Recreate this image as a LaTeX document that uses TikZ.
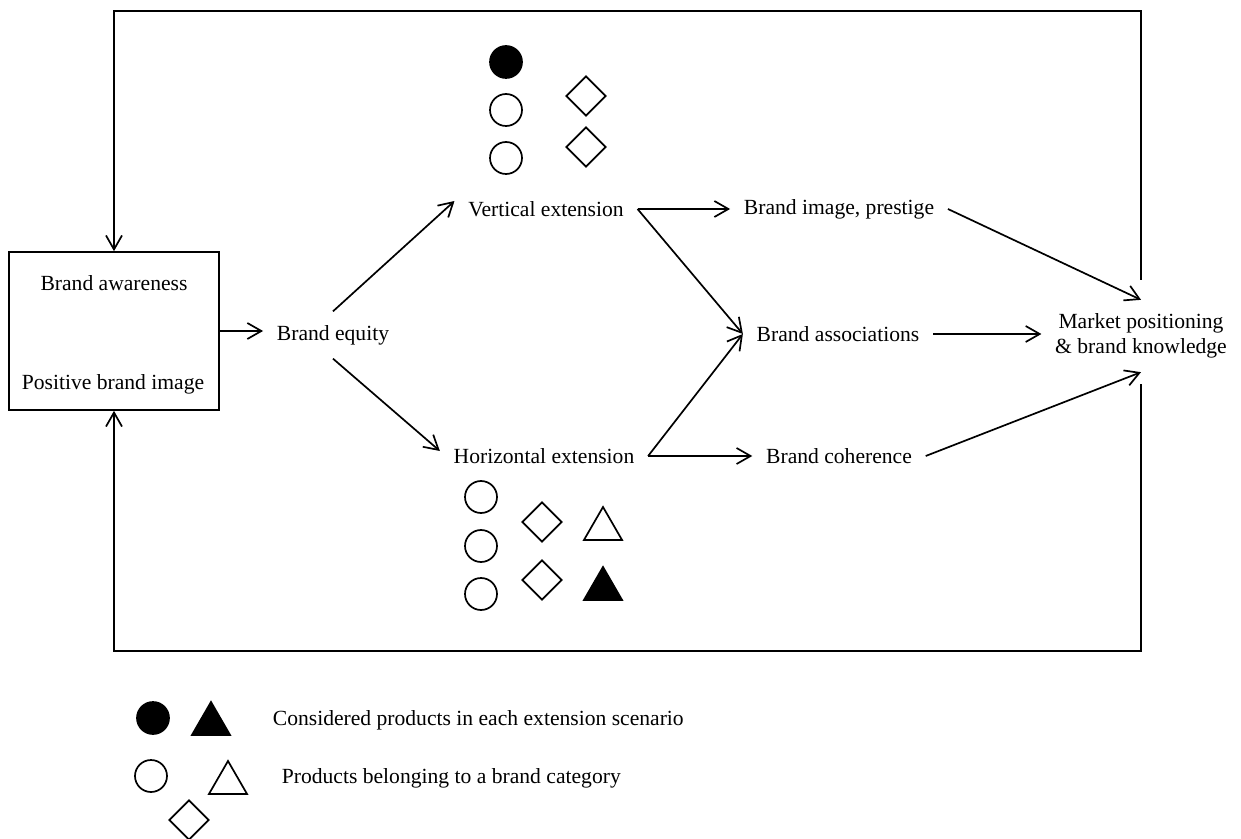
\documentclass[tikz,border=0pt]{standalone}
\usepackage{fontspec}
\setmainfont{Liberation Serif}
\usetikzlibrary{arrows.meta,shapes.geometric}

\begin{document}
\begin{tikzpicture}[x=0.5pt, y=-0.5pt, line width=0.85pt,
	font=\fontsize{10.8}{12.5}\selectfont,
	txt/.style={inner sep=6.5pt},
	arr/.style={-{Straight Barb[length=7pt,width=8pt]}},
	dot/.style={circle,draw,inner sep=0pt,minimum size=16pt},
	seldot/.style={dot,fill=black},
	gem/.style={diamond,draw,inner sep=0pt,minimum size=20pt},
	tri/.style={regular polygon,regular polygon sides=3,draw,inner sep=0pt,minimum size=22pt},
	seltri/.style={tri,fill=black}]
	\useasboundingbox (0,0) rectangle (1241,839);
	\node[draw,minimum width=105pt,minimum height=79pt] (box) at (114,331) {};
	\node (aware) at (114,283) {Brand awareness};
	\node (posimg) at (113,384) {Positive brand image};
	\node[txt] (equity) at (333,335) {Brand equity};
	\node[txt] (vert) at (546,209) {Vertical extension};
	\node[txt] (horiz) at (544,456) {Horizontal extension};
	\node[txt] (prestige) at (839,209) {Brand image, prestige};
	\node[txt] (assoc) at (838,334) {Brand associations};
	\node[txt] (coher) at (839,456) {Brand coherence};
	\node[txt,align=center] (market) at (1141,336) {Market positioning\\\& brand knowledge};
	\coordinate (topR) at (1141,11);
	\coordinate (botR) at (1141,651);

	\node[seldot] (vc1) at (506,62) {};
	\node[dot] (vc2) at (506,110) {};
	\node[dot] (vc3) at (506,158) {};
	\node[gem] (vd1) at (586,96) {};
	\node[gem] (vd2) at (586,147) {};

	\node[dot] (hc1) at (481,497) {};
	\node[dot] (hc2) at (481,546) {};
	\node[dot] (hc3) at (481,594) {};
	\node[gem] (hd1) at (542,522) {};
	\node[gem] (hd2) at (542,580) {};
	\node[tri] (ht1) at (603,529) {};
	\node[seltri] (ht2) at (603,589) {};

	\node[seldot] (lc1) at (153,718) {};
	\node[seltri] (lt1) at (211,724) {};
	\node[anchor=west,inner sep=0pt] (leg1) at (272,720) {Considered products in each extension scenario};
	\node[dot] (lc2) at (151,776) {};
	\node[tri] (lt2) at (228,783) {};
	\node[gem] (ld) at (189,820) {};
	\node[anchor=west,inner sep=0pt] (leg2) at (281,778) {Products belonging to a brand category};

	\draw[arr] (box.east) -- (box.east -| equity.west);
	\draw[arr] (equity.north) -- ([yshift=4pt]vert.west);
	\draw[arr] (equity.south) -- ([yshift=2.5pt]horiz.west);
	\draw[arr] (vert.east) -- (vert.east -| prestige.west);
	\draw[arr] (vert.east) -- (assoc.west);
	\draw[arr] (horiz.east) -- (assoc.west);
	\draw[arr] (horiz.east) -- (horiz.east -| coher.west);
	\draw[arr] (prestige.east) -- (market.north);
	\draw[arr] (assoc.east) -- (assoc.east -| market.west);
	\draw[arr] (coher.east) -- (market.south);
	\draw[arr] ([yshift=10pt]market.north) -- (topR) -| (box.north);
	\draw[arr] ([yshift=-6pt]market.south) -- (botR) -| (box.south);
\end{tikzpicture}
\end{document}
